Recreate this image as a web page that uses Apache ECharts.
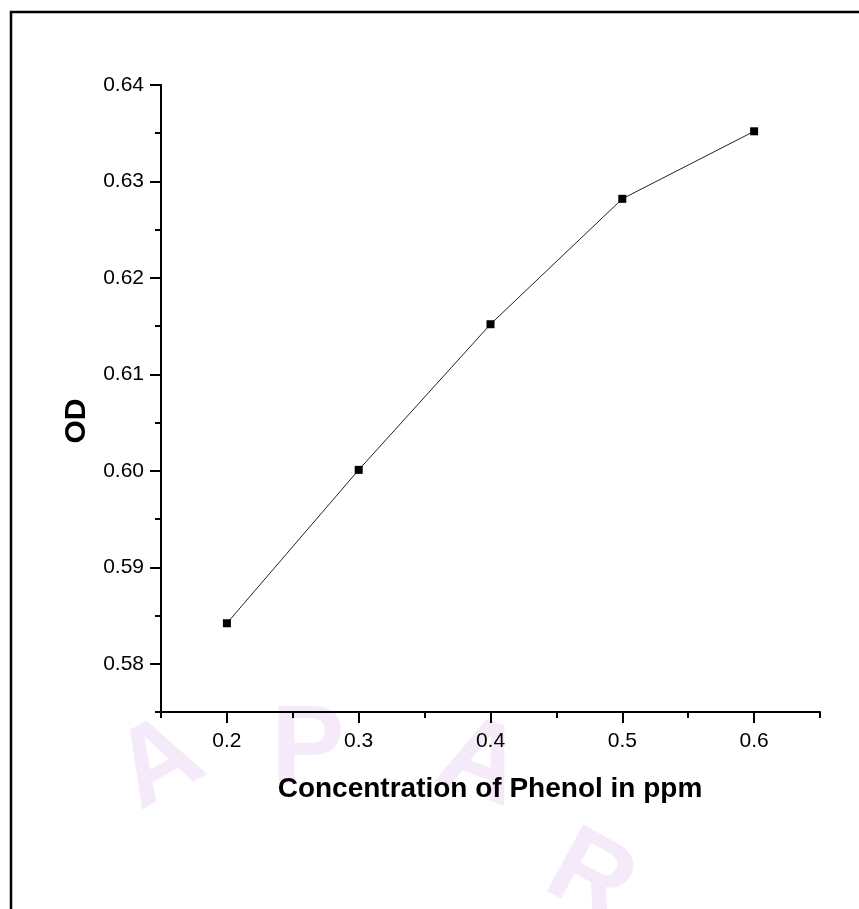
<!DOCTYPE html>
<html>
<head>
<meta charset="utf-8">
<script src="https://cdn.jsdelivr.net/npm/echarts@6/dist/echarts.min.js"></script>
<style>
html,body{margin:0;padding:0;background:#fff;}
#chart{width:859px;height:909px;}
</style>
</head>
<body>
<div id="chart"></div>
<script>
const concentration = [0.2, 0.3, 0.4, 0.5, 0.6];
const odValues = [0.5842, 0.6001, 0.6152, 0.6282, 0.6352];
const xMajorTicks = [0.2, 0.3, 0.4, 0.5, 0.6];
const xMinorTicks = [0.15, 0.25, 0.35, 0.45, 0.55, 0.65];
const yMajorTicks = [0.58, 0.59, 0.60, 0.61, 0.62, 0.63, 0.64];
const yMinorTicks = [0.575, 0.585, 0.595, 0.605, 0.615, 0.625, 0.635];
const xTitle = 'Concentration of Phenol in ppm';
const yTitle = 'OD';

const FONT = "'Liberation Sans', Arial, sans-serif";
const chart = echarts.init(document.getElementById('chart'));
const wm = '#eedcf6';

chart.setOption({
  backgroundColor: '#fff',
  animation: false,
  grid: {left: 161, right: 39, top: 85, bottom: 197, containLabel: false},
  xAxis: [{
    type: 'value', min: 0.15, max: 0.65, gridIndex: 0, position: 'bottom',
    axisLine: {show: true, onZero: false, lineStyle: {color: '#000', width: 2}},
    axisTick: {show: true, inside: false, length: 11, lineStyle: {color: '#000', width: 2}, customValues: xMajorTicks},
    axisLabel: {show: true, margin: 19, color: '#000', fontSize: 21, fontFamily: FONT,
      customValues: xMajorTicks, formatter: v => Number(v).toFixed(1)},
    splitLine: {show: false}
  }, {
    type: 'value', min: 0.15, max: 0.65, gridIndex: 0, position: 'bottom',
    axisLine: {show: false, onZero: false},
    axisTick: {show: true, inside: false, length: 6, lineStyle: {color: '#000', width: 2}, customValues: xMinorTicks},
    axisLabel: {show: false},
    splitLine: {show: false}
  }],
  yAxis: [{
    type: 'value', min: 0.575, max: 0.64, gridIndex: 0, position: 'left',
    axisLine: {show: true, onZero: false, lineStyle: {color: '#000', width: 2}},
    axisTick: {show: true, inside: false, length: 11, lineStyle: {color: '#000', width: 2}, customValues: yMajorTicks},
    axisLabel: {show: true, margin: 17, color: '#000', fontSize: 21, fontFamily: FONT,
      customValues: yMajorTicks, formatter: v => Number(v).toFixed(2)},
    splitLine: {show: false}
  }, {
    type: 'value', min: 0.575, max: 0.64, gridIndex: 0, position: 'left',
    axisLine: {show: false, onZero: false},
    axisTick: {show: true, inside: false, length: 6, lineStyle: {color: '#000', width: 2}, customValues: yMinorTicks},
    axisLabel: {show: false},
    splitLine: {show: false}
  }],
  series: [{
    type: 'line',
    xAxisIndex: 0, yAxisIndex: 0,
    data: concentration.map((c, i) => [c, odValues[i]]),
    symbol: 'rect', symbolSize: 8,
    itemStyle: {color: '#000'},
    lineStyle: {color: '#222', width: 1},
    z: 5
  }],
  graphic: [
    {type: 'text', x: 160, y: 765, rotation: 0.5, z: -10, silent: true,
      style: {text: 'A', fontSize: 110, fontWeight: 'bold', fontFamily: FONT, fill: wm, textAlign: 'center', textVerticalAlign: 'middle', opacity: 0.6}},
    {type: 'text', x: 308, y: 752, rotation: 0, z: -10, silent: true,
      style: {text: 'P', fontSize: 110, fontWeight: 'bold', fontFamily: FONT, fill: wm, textAlign: 'center', textVerticalAlign: 'middle', opacity: 0.6}},
    {type: 'text', x: 480, y: 765, rotation: -0.35, z: -10, silent: true,
      style: {text: 'A', fontSize: 110, fontWeight: 'bold', fontFamily: FONT, fill: wm, textAlign: 'center', textVerticalAlign: 'middle', opacity: 0.6}},
    {type: 'text', x: 590, y: 880, rotation: -0.5, z: -10, silent: true,
      style: {text: 'R', fontSize: 110, fontWeight: 'bold', fontFamily: FONT, fill: wm, textAlign: 'center', textVerticalAlign: 'middle', opacity: 0.6}},
    {type: 'rect', shape: {x: 11, y: 12, width: 900, height: 1000},
      style: {fill: 'none', stroke: '#000', lineWidth: 2.5}, silent: true, z: 100},
    {type: 'text', x: 490, y: 789, z: 100,
      style: {text: xTitle, fontSize: 28, fontWeight: 'bold', fontFamily: FONT, fill: '#000', textAlign: 'center', textVerticalAlign: 'middle'}},
    {type: 'text', x: 77, y: 421, rotation: Math.PI / 2, z: 100,
      style: {text: yTitle, fontSize: 30, fontWeight: 'bold', fontFamily: FONT, fill: '#000', textAlign: 'center', textVerticalAlign: 'middle'}}
  ]
});
</script>
</body>
</html>
